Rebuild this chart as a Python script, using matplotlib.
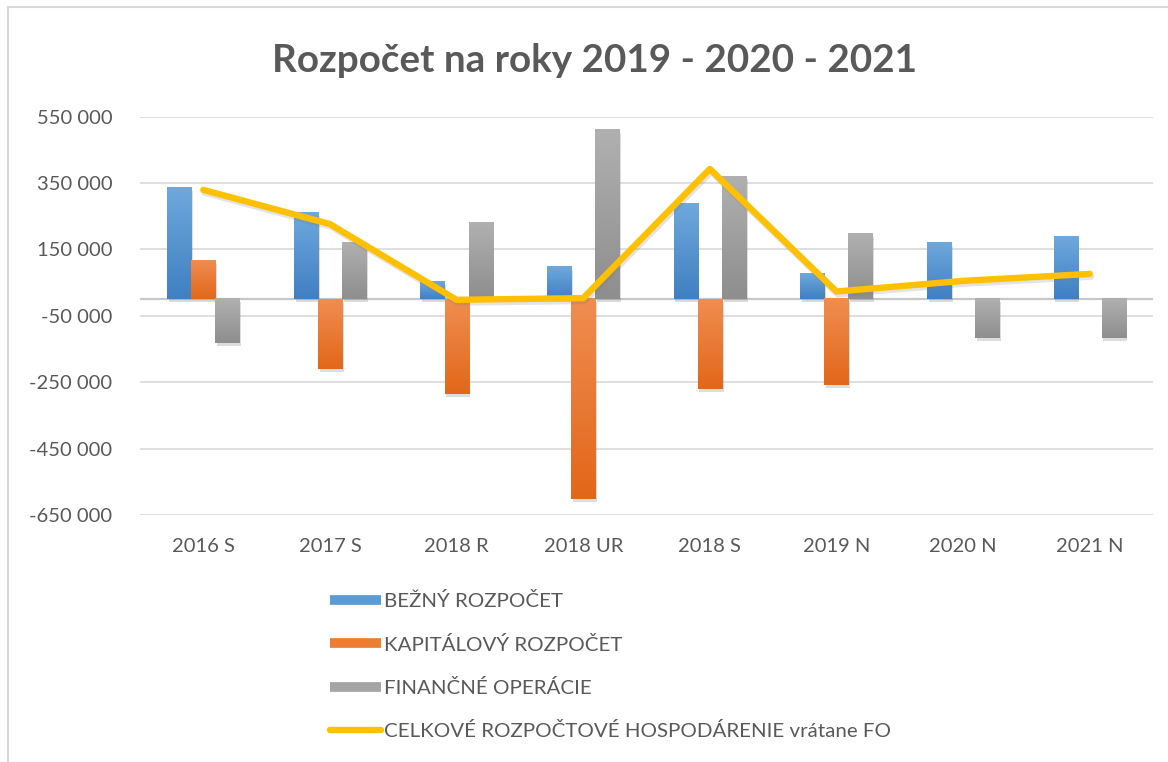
import matplotlib
matplotlib.use("Agg")
import matplotlib.pyplot as plt
import numpy as np
from matplotlib.lines import Line2D
from matplotlib.ticker import FuncFormatter, FixedLocator
from matplotlib import patheffects as pe
from matplotlib.colors import LinearSegmentedColormap

categories = ["2016 S", "2017 S", "2018 R", "2018 UR", "2018 S", "2019 N", "2020 N", "2021 N"]
bezny = [335000, 261000, 52000, 98000, 289000, 78000, 169000, 188000]
kapitalovy = [115000, -209000, -286000, -603000, -271000, -259000, 0, 0]
financne = [-133000, 169000, 230000, 510000, 370000, 196000, -118000, -118000]
celkove = [329000, 226000, -2000, 3000, 392000, 23000, 55000, 76000]
yticks = [550000, 350000, 150000, -50000, -250000, -450000, -650000]

series_names = ["BEŽNÝ ROZPOČET", "KAPITÁLOVÝ ROZPOČET", "FINANČNÉ OPERÁCIE",
                "CELKOVÉ ROZPOČTOVÉ HOSPODÁRENIE vrátane FO"]

plt.rcParams['font.family'] = ['Lato', 'DejaVu Sans']
txt = '#595959'

fig = plt.figure(figsize=(11.68, 7.62), dpi=100)
ax = fig.add_axes([140/1168, 1-515/762, (1153-140)/1168, (515-116.5)/762])

x = np.arange(len(categories))
w = 0.19
grads = [("#6EA8DD", "#4080C2"), ("#F08D50", "#E2671A"), ("#B0B0B0", "#8E8E8E")]
base = ["#5B9BD5", "#ED7D31", "#A5A5A5"]
for i, (vals, (ctop, cbot), bc) in enumerate(zip([bezny, kapitalovy, financne], grads, base)):
    bars = ax.bar(x + (i - 1) * w, vals, width=w, color=bc, zorder=2,
                  path_effects=[pe.SimplePatchShadow(offset=(1.2, -2.2), shadow_rgbFace='#666666', alpha=0.22), pe.Normal()])
    cmap = LinearSegmentedColormap.from_list("g%d" % i, [cbot, ctop])
    for p in bars:
        h = p.get_height()
        if h == 0:
            continue
        x0 = p.get_x()
        y0 = min(p.get_y(), p.get_y() + h)
        y1 = max(p.get_y(), p.get_y() + h)
        grad = np.linspace(0, 1, 64).reshape(-1, 1)
        ax.imshow(grad, extent=[x0, x0 + p.get_width(), y0, y1], origin='lower',
                  aspect='auto', cmap=cmap, zorder=2.1)

ax.plot(x, celkove, color='#FFC000', lw=4.6, solid_capstyle='round', solid_joinstyle='round', zorder=3,
        path_effects=[pe.SimpleLineShadow(offset=(1, -2), shadow_color='#777777', alpha=0.2), pe.Normal()])

ax.set_xlim(-0.5, len(categories) - 0.5)
ax.set_ylim(-650000, 550000)
ax.yaxis.set_major_locator(FixedLocator(yticks))
ax.yaxis.set_major_formatter(FuncFormatter(lambda v, p: f"{int(v):,}".replace(",", " ")))
ax.set_xticks(x)
ax.set_xticklabels(categories)
ax.grid(axis='y', color='#D9D9D9', lw=1.2, zorder=0)
ax.axhline(0, color='#C8C8C8', lw=1.6, zorder=1.5)
for s in ax.spines.values():
    s.set_visible(False)
ax.tick_params(axis='both', length=0, colors=txt, labelsize=14.5)
ax.tick_params(axis='y', pad=20)
ax.tick_params(axis='x', pad=16.5)

fig.text(595/1168, 1-60/762, "Rozpočet na roky 2019 - 2020 - 2021", ha='center', va='center',
         fontsize=27.8, fontweight='bold', color=txt)

handles = [Line2D([], [], color=base[0], lw=7, solid_capstyle='butt'),
           Line2D([], [], color=base[1], lw=7, solid_capstyle='butt'),
           Line2D([], [], color=base[2], lw=7, solid_capstyle='butt'),
           Line2D([], [], color='#FFC000', lw=4.6, solid_capstyle='round')]
fig.legend(handles, series_names, loc='upper left', bbox_to_anchor=(322/1168, 1-584/762),
           frameon=False, fontsize=14.75, labelcolor=txt, handlelength=2.5, handletextpad=0.15,
           labelspacing=1.24, borderaxespad=0)

fig.add_artist(Line2D([8/1168, 8/1168], [0, 1-7/762], transform=fig.transFigure, color='#D9D9D9', lw=1.5))
fig.add_artist(Line2D([8/1168, 1], [1-7/762, 1-7/762], transform=fig.transFigure, color='#D9D9D9', lw=1.5))

fig.savefig("out.png", dpi=100, facecolor='white')
